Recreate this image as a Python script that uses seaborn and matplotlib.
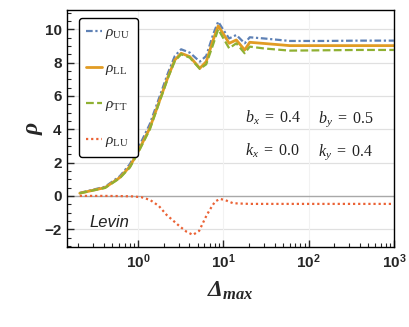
import numpy as np
import pandas as pd
import matplotlib
matplotlib.use('Agg')
import matplotlib.pyplot as plt
import seaborn as sns
from matplotlib.ticker import MultipleLocator, LogLocator, NullFormatter

# values
x_main = [0.207, 0.41, 0.61, 0.8, 1.0, 1.37, 1.8, 2.25, 2.7, 3.2, 4.04, 5.3, 6.3, 7.6,
          8.7, 9.9, 11.7, 14.2, 17.8, 20.4, 30, 60, 150, 400, 1000]
rho_uu = [0.18, 0.55, 1.18, 1.9, 2.85, 4.3, 6.0, 7.4, 8.4, 8.8, 8.6, 8.06, 8.4, 9.7,
          10.46, 10.0, 9.45, 9.66, 9.16, 9.52, 9.45, 9.3, 9.3, 9.32, 9.32]
rho_ll = [0.16, 0.5, 1.1, 1.76, 2.66, 4.06, 5.76, 7.16, 8.16, 8.56, 8.36, 7.66, 8.06, 9.36,
          10.2, 9.76, 9.16, 9.36, 8.76, 9.22, 9.15, 9.02, 9.02, 9.02, 9.02]
rho_tt = [0.16, 0.48, 1.06, 1.7, 2.58, 3.98, 5.7, 7.1, 8.1, 8.5, 8.3, 7.62, 7.9, 9.1,
          10.0, 9.5, 8.86, 9.16, 8.56, 8.96, 8.85, 8.72, 8.74, 8.76, 8.76]

x_lu = [0.207, 0.4, 0.6, 0.87, 1.1, 1.38, 1.75, 2.16, 2.6, 3.1, 3.7, 4.4, 5.2, 6.4,
        7.2, 8.0, 9.1, 10.5, 13, 20, 100, 1000]
rho_lu = [0.0, 0.0, -0.01, -0.03, -0.08, -0.24, -0.6, -1.14, -1.5, -1.84, -2.15, -2.34,
          -2.1, -1.14, -0.7, -0.34, -0.18, -0.25, -0.44, -0.48, -0.48, -0.48]

params = [(r'$\mathit{b_x\ =\ 0.4}$', r'$\mathit{b_y\ =\ 0.5}$'),
          (r'$\mathit{k_x\ =\ 0.0}$', r'$\mathit{k_y\ =\ 0.4}$')]

sns.set_theme(style='ticks')
plt.rcParams['font.family'] = ['Liberation Sans', 'DejaVu Sans']
plt.rcParams['mathtext.fontset'] = 'custom'
plt.rcParams['mathtext.rm'] = 'Liberation Serif'
plt.rcParams['mathtext.it'] = 'Liberation Serif:italic'
plt.rcParams['mathtext.bf'] = 'Liberation Serif:bold'
plt.rcParams['mathtext.bfit'] = 'Liberation Serif:italic:bold'

fig, ax = plt.subplots(figsize=(4.09, 3.27), dpi=100)
fig.subplots_adjust(left=0.164, right=0.963, bottom=0.245, top=0.969)

for yv in [-2, 2, 4, 6, 8, 10]:
    ax.axhline(yv, color='#e0e0e0', lw=0.9, zorder=0)
for xv in [1, 10, 100]:
    ax.axvline(xv, color='#f2f2f2', lw=0.8, zorder=0)
ax.axhline(0, color='#a8a8a8', lw=1.0, zorder=0)

df = pd.DataFrame({'x': x_main, 'uu': rho_uu, 'll': rho_ll, 'tt': rho_tt})
dlu = pd.DataFrame({'x': x_lu, 'lu': rho_lu})

sns.lineplot(data=df, x='x', y='uu', ax=ax, color='#5e81b5', lw=1.6,
             linestyle=(0, (3, 1.2, 1, 1.2)), label=r'$\rho_{\rm UU}$')
sns.lineplot(data=df, x='x', y='ll', ax=ax, color='#e19c24', lw=2.0,
             label=r'$\rho_{\rm LL}$')
sns.lineplot(data=df, x='x', y='tt', ax=ax, color='#8fb032', lw=1.6,
             linestyle=(0, (3.5, 1.5)), label=r'$\rho_{\rm TT}$')
sns.lineplot(data=dlu, x='x', y='lu', ax=ax, color='#eb6235', lw=1.6,
             linestyle=(0, (1, 1.3)), label=r'$\rho_{\rm LU}$')

ax.set_xscale('log')
ax.set_xlim(0.147, 1000)
ax.set_ylim(-3.06, 11.15)
ax.yaxis.set_major_locator(MultipleLocator(2))
ax.yaxis.set_minor_locator(MultipleLocator(0.5))
ax.xaxis.set_major_locator(LogLocator(base=10, numticks=10))
ax.xaxis.set_minor_locator(LogLocator(base=10, subs=np.arange(2, 10), numticks=20))
ax.xaxis.set_minor_formatter(NullFormatter())

for s in ax.spines.values():
    s.set_color('black')
    s.set_linewidth(1.0)
ax.tick_params(which='major', direction='in', length=5, width=1.0, labelsize=11, pad=4)
ax.tick_params(which='minor', direction='in', length=3, width=0.8)
for lab in ax.get_xticklabels() + ax.get_yticklabels():
    lab.set_fontweight('bold')

ax.set_xlabel(r'$\mathbfit{\Delta}_{\mathbfit{max}}$', fontsize=17, labelpad=6)
ax.set_ylabel(r'$\mathbfit{\rho}$', fontsize=17)
ax.yaxis.set_label_coords(-0.068, 0.5)

for (left, right), yy in zip(params, [0.525, 0.385]):
    ax.text(0.545, yy, left, transform=ax.transAxes, fontsize=11.5, color='#222222')
    ax.text(0.768, yy, right, transform=ax.transAxes, fontsize=11.5, color='#222222')
ax.text(0.07, 0.085, 'Levin', transform=ax.transAxes, fontsize=12, style='italic',
        color='#222222')

leg = ax.legend(loc='upper left', bbox_to_anchor=(0.012, 1.0), fontsize=11,
                handlelength=1.0, handletextpad=0.25, labelspacing=1.3,
                borderpad=0.5, borderaxespad=0.5, frameon=True, fancybox=True)
leg.get_frame().set_edgecolor('black')
leg.get_frame().set_linewidth(1.0)
leg.get_frame().set_alpha(1)

fig.savefig('out.png', dpi=100)
